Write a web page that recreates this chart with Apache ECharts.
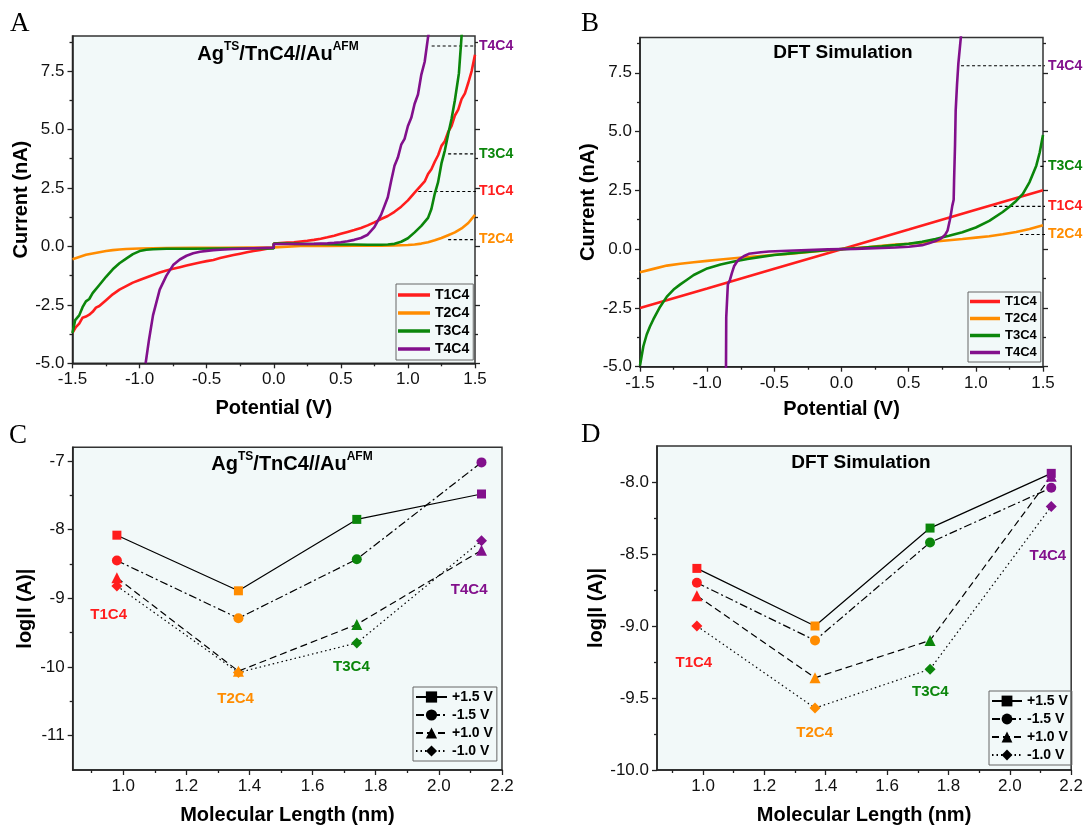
<!DOCTYPE html>
<html><head><meta charset="utf-8">
<script src="https://cdn.jsdelivr.net/npm/echarts@6/dist/echarts.min.js"></script>
<style>html,body{margin:0;padding:0;background:#fff}#c{width:1086px;height:829px}</style>
</head><body><div id="c"></div>
<script>
const FONT = '"Liberation Sans", Arial, sans-serif';
const SERIF = '"Liberation Serif", "Times New Roman", serif';

// ---------- categories / names ----------
const names = ['T1C4', 'T2C4', 'T3C4', 'T4C4'];
const colors = ['#ff1d1d', '#ff8c00', '#0b860b', '#82108c'];
const biasNames = ['+1.5 V', '-1.5 V', '+1.0 V', '-1.0 V'];

// ---------- tick labels ----------
const ivMajorX = [-1.5, -1, -0.5, 0, 0.5, 1, 1.5];
const ivMinorX = [-1.25, -0.75, -0.25, 0.25, 0.75, 1.25];
const ivMajorY = [-5, -2.5, 0, 2.5, 5, 7.5];
const ivMinorY = [-3.75, -1.25, 1.25, 3.75, 6.25, 8.75];
const lenMajorX = [1.0, 1.2, 1.4, 1.6, 1.8, 2.0, 2.2];
const lenMinorX = [0.9, 1.1, 1.3, 1.5, 1.7, 1.9, 2.1];
const cMajorY = [-11, -10, -9, -8, -7];
const cMinorY = [-10.5, -9.5, -8.5, -7.5];
const dMajorY = [-10, -9.5, -9, -8.5, -8];
const dMinorY = [-9.75, -9.25, -8.75, -8.25];

// ---------- Panel A: experimental I-V (V, nA) ----------
const aT1C4 = [[-1.5,-3.7],[-1.475,-3.45],[-1.45,-3.3],[-1.425,-3.05],[-1.4,-3.0],[-1.375,-2.92],[-1.35,-2.8],[-1.325,-2.62],[-1.3,-2.55],[-1.25,-2.3],[-1.2,-2.05],[-1.15,-1.85],[-1.1,-1.7],[-1.05,-1.55],[-1.0,-1.44],[-0.95,-1.33],[-0.9,-1.22],[-0.85,-1.12],[-0.8,-1.03],[-0.75,-0.96],[-0.7,-0.89],[-0.65,-0.82],[-0.6,-0.75],[-0.55,-0.69],[-0.5,-0.63],[-0.45,-0.58],[-0.4,-0.5],[-0.35,-0.43],[-0.3,-0.37],[-0.25,-0.31],[-0.2,-0.25],[-0.15,-0.2],[-0.1,-0.15],[-0.05,-0.1],[0,-0.06],[0,0.12],[0.05,0.14],[0.1,0.16],[0.15,0.18],[0.2,0.21],[0.25,0.24],[0.3,0.28],[0.35,0.33],[0.4,0.39],[0.45,0.46],[0.5,0.54],[0.55,0.62],[0.6,0.7],[0.65,0.79],[0.7,0.9],[0.75,1.03],[0.8,1.17],[0.85,1.3],[0.9,1.48],[0.95,1.7],[1.0,1.97],[1.05,2.3],[1.1,2.62],[1.125,2.78],[1.15,3.1],[1.175,3.3],[1.2,3.62],[1.225,3.9],[1.25,4.3],[1.275,4.5],[1.3,4.9],[1.325,5.15],[1.35,5.6],[1.375,5.85],[1.4,6.3],[1.425,6.55],[1.45,7.0],[1.475,7.5],[1.5,8.2]];
const aT2C4 = [[-1.5,-0.55],[-1.45,-0.45],[-1.4,-0.36],[-1.35,-0.3],[-1.3,-0.25],[-1.25,-0.2],[-1.2,-0.16],[-1.15,-0.13],[-1.1,-0.11],[-1.05,-0.1],[-1.0,-0.09],[-0.9,-0.08],[-0.8,-0.07],[-0.6,-0.06],[-0.4,-0.06],[-0.2,-0.05],[0,-0.04],[0,0.02],[0.2,0.02],[0.4,0.02],[0.6,0.03],[0.8,0.03],[0.9,0.04],[1.0,0.06],[1.05,0.08],[1.1,0.12],[1.15,0.18],[1.2,0.26],[1.25,0.36],[1.3,0.48],[1.35,0.6],[1.4,0.77],[1.45,1.0],[1.5,1.35]];
const aT3C4 = [[-1.5,-3.7],[-1.48,-3.15],[-1.45,-2.95],[-1.425,-2.6],[-1.4,-2.35],[-1.375,-2.25],[-1.35,-2.0],[-1.3,-1.65],[-1.25,-1.3],[-1.2,-0.98],[-1.15,-0.72],[-1.1,-0.52],[-1.05,-0.33],[-1.0,-0.2],[-0.95,-0.14],[-0.9,-0.12],[-0.8,-0.1],[-0.6,-0.1],[-0.4,-0.09],[-0.2,-0.09],[0,-0.09],[0,0.12],[0.1,0.12],[0.2,0.11],[0.3,0.1],[0.4,0.09],[0.5,0.08],[0.6,0.08],[0.7,0.07],[0.8,0.07],[0.85,0.08],[0.9,0.11],[0.95,0.2],[1.0,0.35],[1.05,0.6],[1.1,0.88],[1.15,1.22],[1.175,1.6],[1.2,2.25],[1.225,2.75],[1.25,3.55],[1.275,4.1],[1.3,4.8],[1.325,5.45],[1.35,6.25],[1.38,7.4],[1.4,9.0],[1.42,10.5]];
const aT4C4 = [[-0.955,-5.0],[-0.93,-4.0],[-0.9,-2.95],[-0.85,-1.85],[-0.8,-1.25],[-0.75,-0.8],[-0.7,-0.56],[-0.65,-0.4],[-0.6,-0.29],[-0.55,-0.23],[-0.5,-0.19],[-0.45,-0.16],[-0.4,-0.14],[-0.3,-0.11],[-0.2,-0.09],[-0.1,-0.07],[0,-0.05],[0,0.1],[0.1,0.1],[0.2,0.1],[0.3,0.11],[0.4,0.13],[0.45,0.15],[0.5,0.18],[0.55,0.22],[0.6,0.28],[0.65,0.36],[0.7,0.5],[0.75,0.82],[0.8,1.35],[0.85,2.1],[0.875,2.8],[0.9,3.45],[0.925,3.8],[0.95,4.35],[0.975,4.6],[1.0,5.15],[1.025,5.5],[1.05,6.1],[1.075,6.5],[1.1,7.35],[1.125,7.9],[1.15,8.95],[1.16,9.3]];
const annALevel = [2.35, 0.29, 3.96, 8.57];
const annAStart = [1.077, 1.30, 1.30, 1.177];
const annAEnd = 1.522;

// ---------- Panel B: DFT I-V (V, nA) ----------
const bT1C4 = [[-1.5,-2.5],[-1.0,-1.67],[-0.5,-0.83],[0,0],[0.5,0.83],[1.0,1.67],[1.5,2.5]];
const bT2C4 = [[-1.5,-0.98],[-1.4,-0.84],[-1.3,-0.7],[-1.2,-0.62],[-1.1,-0.56],[-1.0,-0.5],[-0.9,-0.44],[-0.8,-0.39],[-0.7,-0.34],[-0.6,-0.29],[-0.5,-0.24],[-0.4,-0.2],[-0.3,-0.15],[-0.2,-0.1],[-0.1,-0.05],[0,0],[0.1,0.05],[0.2,0.09],[0.3,0.14],[0.4,0.19],[0.5,0.23],[0.6,0.28],[0.7,0.33],[0.8,0.38],[0.9,0.43],[1.0,0.49],[1.1,0.55],[1.2,0.63],[1.3,0.73],[1.4,0.86],[1.5,1.02]];
const bT3C4 = [[-1.5,-4.95],[-1.475,-4.13],[-1.45,-3.63],[-1.425,-3.28],[-1.4,-2.98],[-1.375,-2.71],[-1.35,-2.45],[-1.3,-2.02],[-1.25,-1.72],[-1.2,-1.5],[-1.15,-1.3],[-1.1,-1.1],[-1.0,-0.82],[-0.9,-0.65],[-0.8,-0.53],[-0.7,-0.42],[-0.6,-0.33],[-0.5,-0.25],[-0.4,-0.19],[-0.3,-0.14],[-0.2,-0.09],[-0.1,-0.04],[0,0],[0.1,0.03],[0.2,0.08],[0.3,0.12],[0.4,0.17],[0.5,0.23],[0.6,0.31],[0.7,0.43],[0.8,0.57],[0.9,0.72],[1.0,0.92],[1.1,1.2],[1.2,1.58],[1.25,1.8],[1.3,2.05],[1.35,2.35],[1.4,2.85],[1.45,3.55],[1.475,4.1],[1.5,4.85]];
const bT4C4 = [[-0.86,-5.2],[-0.858,-2.9],[-0.85,-2.85],[-0.846,-1.5],[-0.83,-1.3],[-0.815,-1.0],[-0.8,-0.73],[-0.78,-0.55],[-0.76,-0.42],[-0.72,-0.28],[-0.69,-0.2],[-0.6,-0.13],[-0.54,-0.1],[-0.4,-0.07],[-0.2,-0.03],[-0.1,-0.01],[0,0],[0.1,0.01],[0.2,0.03],[0.3,0.05],[0.4,0.07],[0.5,0.1],[0.6,0.17],[0.65,0.25],[0.7,0.34],[0.74,0.45],[0.77,0.6],[0.79,0.8],[0.805,1.2],[0.815,1.5],[0.825,1.85],[0.835,2.1],[0.838,2.9],[0.845,4.4],[0.85,5.9],[0.86,7.0],[0.87,7.9],[0.89,9.1]];
const annBLevel = [1.82, 0.62, 3.52, 7.8];
const annBStart = [1.133, 1.33, 1.48, 0.89];
const annBEnd = 1.555;

// ---------- Panel C / D: log|I| vs molecular length ----------
const lengths = [0.98, 1.365, 1.74, 2.135];
const cP15 = [-8.08, -8.89, -7.85, -7.48];
const cM15 = [-8.45, -9.29, -8.43, -7.02];
const cP10 = [-8.7, -10.06, -9.38, -8.3];
const cM10 = [-8.82, -10.08, -9.65, -8.16];
const cLabelX = [0.954, 1.356, 1.723, 2.096];
const cLabelY = [-9.24, -10.47, -10.0, -8.88];
const dP15 = [-8.6, -9.0, -8.32, -7.94];
const dM15 = [-8.7, -9.1, -8.42, -8.04];
const dP10 = [-8.79, -9.36, -9.1, -7.96];
const dM10 = [-9.0, -9.57, -9.3, -8.17];
const dLabelX = [0.97, 1.364, 1.741, 2.124];
const dLabelY = [-9.255, -9.74, -9.46, -8.51];

// ---------- build ----------
const INK = '#222';
const xAxes = [], yAxes = [], series = [];
const nameStyle = {fontFamily: FONT, fontSize: 20, fontWeight: 'bold', color: '#000'};
const tickLabel = {fontFamily: FONT, fontSize: 17, color: '#111'};

function addAxes(g, xr, yr, xMaj, xMin, yMaj, yMin, xName, yName, xFmt, yFmt, xGap, yGap, rightTicks) {
  const base = {gridIndex: g, type: 'value', splitLine: {show: false}};
  const xi = xAxes.length, yi = yAxes.length;
  xAxes.push(Object.assign({}, base, {
    position: 'bottom', min: xr[0], max: xr[1], name: xName, nameLocation: 'middle', nameGap: xGap,
    nameTextStyle: nameStyle,
    axisLine: {show: true, onZero: false, lineStyle: {color: INK, width: 1.5}},
    axisTick: {show: true, customValues: xMaj, length: 5, lineStyle: {color: INK, width: 1.3}},
    axisLabel: Object.assign({show: true, customValues: xMaj, formatter: xFmt}, tickLabel)
  }));
  xAxes.push(Object.assign({}, base, {
    position: 'bottom', min: xr[0], max: xr[1],
    axisLine: {show: false, onZero: false},
    axisTick: {show: true, customValues: xMin, length: 3, lineStyle: {color: INK, width: 1.3}},
    axisLabel: {show: false}
  }));
  yAxes.push(Object.assign({}, base, {
    position: 'left', min: yr[0], max: yr[1], name: yName, nameLocation: 'middle', nameGap: yGap,
    nameTextStyle: nameStyle,
    axisLine: {show: true, onZero: false, lineStyle: {color: INK, width: 1.5}},
    axisTick: {show: true, customValues: yMaj, length: 5, lineStyle: {color: INK, width: 1.3}},
    axisLabel: Object.assign({show: true, customValues: yMaj, formatter: yFmt}, tickLabel)
  }));
  yAxes.push(Object.assign({}, base, {
    position: 'left', min: yr[0], max: yr[1],
    axisLine: {show: false, onZero: false},
    axisTick: {show: true, customValues: yMin, length: 3, lineStyle: {color: INK, width: 1.3}},
    axisLabel: {show: false}
  }));
  if (rightTicks) {
    yAxes.push(Object.assign({}, base, {
      position: 'right', min: yr[0], max: yr[1],
      axisLine: {show: false, onZero: false},
      axisTick: {show: true, customValues: yMaj, length: 5, lineStyle: {color: INK, width: 1.3}},
      axisLabel: {show: false}
    }));
    yAxes.push(Object.assign({}, base, {
      position: 'right', min: yr[0], max: yr[1],
      axisLine: {show: false, onZero: false},
      axisTick: {show: true, customValues: yMin, length: 3, lineStyle: {color: INK, width: 1.3}},
      axisLabel: {show: false}
    }));
  }
  return {xi: xi, yi: yi};
}
const f1 = v => v.toFixed(1);
const f0 = v => String(Math.round(v));

const axA = addAxes(0, [-1.5, 1.5], [-5, 9], ivMajorX, ivMinorX, ivMajorY, ivMinorY, 'Potential (V)', 'Current (nA)', f1, f1, 35, 33, true);
const axB = addAxes(1, [-1.5, 1.5], [-5, 9], ivMajorX, ivMinorX, ivMajorY, ivMinorY, 'Potential (V)', 'Current (nA)', f1, f1, 33, 32, true);
const axC = addAxes(2, [0.84, 2.2], [-11.5, -6.8], lenMajorX, lenMinorX, cMajorY, cMinorY, 'Molecular Length (nm)', 'log|I (A)|', f1, f0, 35, 37, false);
const axD = addAxes(3, [0.85, 2.2], [-10, -7.75], lenMajorX, lenMinorX, dMajorY, dMinorY, 'Molecular Length (nm)', 'log|I (A)|', f1, f1, 35, 51, false);

function ivPanel(ax, curves, levels, starts, end) {
  curves.forEach((d, i) => {
    series.push({
      type: 'line', name: names[i], xAxisIndex: ax.xi, yAxisIndex: ax.yi, data: d,
      symbol: 'none', lineStyle: {color: colors[i], width: 2.6}, itemStyle: {color: colors[i]},
      z: 3
    });
  });
  levels.forEach((lv, i) => {
    series.push({
      type: 'line', name: 'ann' + i, xAxisIndex: ax.xi, yAxisIndex: ax.yi,
      data: [[starts[i], lv], [end, lv]], clip: false, symbol: 'none', silent: true,
      lineStyle: {color: '#000', width: 1.1, type: [3, 2.5]},
      endLabel: {show: true, formatter: names[i], color: colors[i], fontFamily: FONT,
                 fontSize: 14, fontWeight: 'bold', distance: 3},
      z: 2
    });
  });
}
ivPanel(axA, [aT1C4, aT2C4, aT3C4, aT4C4], annALevel, annAStart, annAEnd);
ivPanel(axB, [bT1C4, bT2C4, bT3C4, bT4C4], annBLevel, annBStart, annBEnd);

const biasSymbols = ['rect', 'circle', 'triangle', 'diamond'];
const biasSizes = [9, 10, 11, 11];
const biasDash = ['solid', [8, 3, 2, 3], [7, 4], [1.5, 3]];
function lenPanel(ax, sets, lx, ly) {
  sets.forEach((vals, k) => {
    series.push({
      type: 'line', name: biasNames[k], xAxisIndex: ax.xi, yAxisIndex: ax.yi,
      data: lengths.map((x, i) => ({value: [x, vals[i]], itemStyle: {color: colors[i]}})),
      symbol: biasSymbols[k], symbolSize: biasSizes[k],
      lineStyle: {color: '#000', width: 1.2, type: biasDash[k]},
      itemStyle: {color: '#000'}, z: 3 + (3 - k)
    });
  });
  series.push({
    type: 'scatter', name: 'lbl', xAxisIndex: ax.xi, yAxisIndex: ax.yi, silent: true,
    symbolSize: 0.1, z: 8,
    data: names.map((n, i) => ({value: [lx[i], ly[i]], name: n, itemStyle: {color: colors[i]},
      label: {show: true, position: 'inside', formatter: n, color: colors[i], fontFamily: FONT,
              fontSize: 15, fontWeight: 'bold', opacity: 1}}))
  });
}
lenPanel(axC, [cP15, cM15, cP10, cM10], cLabelX, cLabelY);
lenPanel(axD, [dP15, dM15, dP10, dM10], dLabelX, dLabelY);

const gridBase = {show: true, backgroundColor: '#f2f9f9', borderColor: '#333', borderWidth: 1.5, containLabel: false};
const legBase = {orient: 'vertical', borderColor: '#666', borderWidth: 1, backgroundColor: 'rgba(255,255,255,0)',
  itemGap: 4, textStyle: {fontFamily: FONT, fontSize: 14, fontWeight: 'bold', color: '#000'}, selectedMode: false};
const supRich = {
  n: {fontFamily: FONT, fontSize: 20, fontWeight: 'bold', color: '#000', lineHeight: 26},
  s: {fontFamily: FONT, fontSize: 12, fontWeight: 'bold', color: '#000', lineHeight: 14, verticalAlign: 'top'}
};
const supTitle = '{n|Ag}{s|TS}{n|/TnC4//Au}{s|AFM}';
const letter = (t, l, tp) => ({text: t, left: l, top: tp, padding: 0,
  textStyle: {fontFamily: SERIF, fontSize: 27, fontWeight: 'normal', color: '#000'}});

const option = {
  animation: false,
  backgroundColor: '#fff',
  title: [
    letter('A', 10, 10), letter('B', 581, 10), letter('C', 9, 422), letter('D', 581, 421),
    {text: supTitle, left: 278, top: 41, textAlign: 'center', padding: 0, textStyle: {rich: supRich}},
    {text: 'DFT Simulation', left: 843, top: 43, textAlign: 'center', padding: 0,
     textStyle: {fontFamily: FONT, fontSize: 19, fontWeight: 'bold', color: '#000'}},
    {text: supTitle, left: 292, top: 451, textAlign: 'center', padding: 0, textStyle: {rich: supRich}},
    {text: 'DFT Simulation', left: 861, top: 453, textAlign: 'center', padding: 0,
     textStyle: {fontFamily: FONT, fontSize: 19, fontWeight: 'bold', color: '#000'}}
  ],
  grid: [
    Object.assign({left: 72.5, top: 36, width: 402.5, height: 327.3}, gridBase),
    Object.assign({left: 640, top: 37.5, width: 403, height: 329.2}, gridBase),
    Object.assign({left: 72.7, top: 447.3, width: 429.3, height: 322.7}, gridBase),
    Object.assign({left: 657, top: 446, width: 416, height: 324}, gridBase)
  ],
  legend: [
    Object.assign({}, legBase, {left: 396, top: 284, icon: 'rect', itemWidth: 32, itemHeight: 3.5, itemGap: 4,
      padding: [4, 4, 4, 2], data: names}),
    Object.assign({}, legBase, {left: 968, top: 292, icon: 'rect', itemWidth: 30, itemHeight: 3.5, itemGap: 4,
      padding: [3, 4, 3, 2], data: names,
      textStyle: {fontFamily: FONT, fontSize: 13, fontWeight: 'bold', color: '#000'}}),
    Object.assign({}, legBase, {left: 413, top: 687, itemWidth: 31, itemHeight: 14, padding: [3, 4, 3, 2], data: biasNames}),
    Object.assign({}, legBase, {left: 989, top: 691, itemWidth: 30, itemHeight: 13.5, padding: [3, 4, 3, 2], data: biasNames})
  ],
  xAxis: xAxes,
  yAxis: yAxes,
  series: series
};
const chart = echarts.init(document.getElementById('c'), null, {renderer: 'canvas'});
chart.setOption(option);
</script></body></html>
